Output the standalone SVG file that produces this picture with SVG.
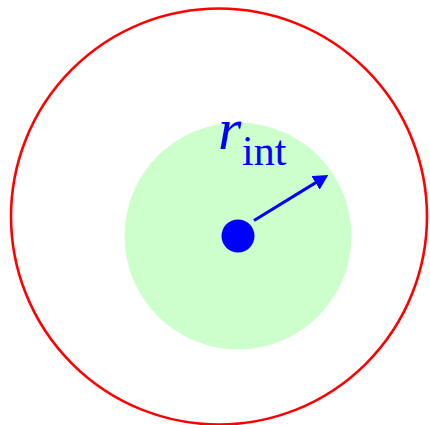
<svg xmlns="http://www.w3.org/2000/svg" width="430" height="425" viewBox="0 0 430 425">
<defs>
<marker id="ah" markerWidth="15" markerHeight="16" refX="8" refY="8" orient="auto" markerUnits="userSpaceOnUse" viewBox="0 0 15 16">
<path d="M0,0 L15,8 L0,16 Z" fill="#0000ff"/>
</marker>
<style>
.lbl{font-family:"Liberation Serif","Times New Roman",serif;fill:#0000ff}
</style>
</defs>
<rect width="430" height="425" fill="#ffffff"/>
<g id="outer"><circle cx="219" cy="216.5" r="208" fill="none" stroke="#ff0000" stroke-width="2.6"/></g>
<g id="inner"><circle cx="238" cy="236" r="113.5" fill="#ccffcc"/></g>
<g id="center"><circle cx="238" cy="236" r="16.5" fill="#0000ff"/></g>
<g id="connectors">
<line x1="254" y1="220.5" x2="322.3" y2="178.6" stroke="#0000ff" stroke-width="3" marker-end="url(#ah)"/>
</g>
<g id="label">
<text class="lbl" x="218" y="149" font-size="60" font-style="italic">r</text>
<text class="lbl" x="242" y="165" font-size="42">int</text>
</g>
</svg>
